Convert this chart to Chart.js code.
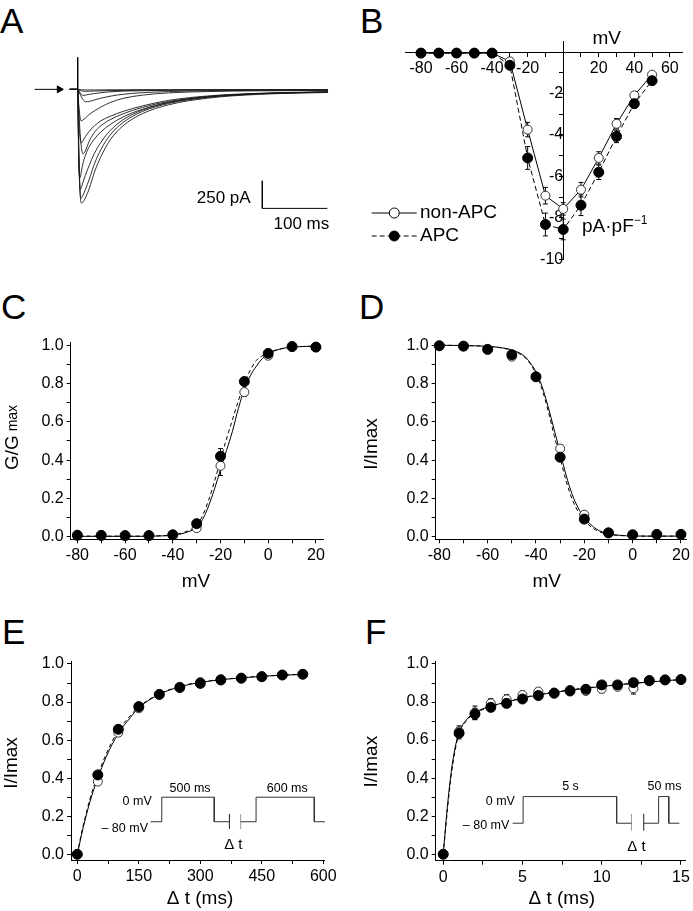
<!DOCTYPE html>
<html>
<head>
<meta charset="utf-8">
<script src="https://cdn.jsdelivr.net/npm/chart.js@4.4.0/dist/chart.umd.min.js"></script>
<style>
  body { margin: 0; background: #fff; }
  #fig { position: relative; width: 693px; height: 911px; background: #fff; overflow: hidden; }
  canvas { position: absolute; }
  .lt { position: absolute; font: 35px 'Liberation Sans', Arial, sans-serif; line-height: 35px; color: #000; }
</style>
</head>
<body>
<div id="fig">
  <div class="lt" style="left:0px;top:3px">A</div>
  <div class="lt" style="left:360px;top:3px">B</div>
  <div class="lt" style="left:1px;top:289px">C</div>
  <div class="lt" style="left:359px;top:289px">D</div>
  <div class="lt" style="left:2px;top:614px">E</div>
  <div class="lt" style="left:365px;top:614px">F</div>
  <canvas id="cA" width="345" height="200" style="left:0px;top:40px"></canvas>
  <canvas id="cB" width="343" height="280" style="left:350px;top:0px"></canvas>
  <canvas id="cC" width="345" height="260" style="left:0px;top:330px"></canvas>
  <canvas id="cD" width="348" height="260" style="left:345px;top:330px"></canvas>
  <canvas id="cE" width="345" height="321" style="left:0px;top:590px"></canvas>
  <canvas id="cF" width="348" height="321" style="left:345px;top:590px"></canvas>
</div>
<script>
'use strict';

const FONT = "'Liberation Sans', Arial, Helvetica, sans-serif";

// ---- A: current traces (ms, pA)
const traceT = [-12, 0, 2, 4, 6, 8, 12, 18, 26, 36, 50, 70, 100, 140, 200, 280, 385];
const trace1 = [0, 0, -560, -950, -1030, -1025, -985, -900, -750, -610, -460, -330, -220, -140, -80, -45, -28];
const trace2 = [0, 0, -600, -940, -985, -965, -910, -815, -675, -545, -415, -300, -200, -128, -72, -40, -25];
const trace3 = [0, 0, -650, -910, -890, -850, -780, -690, -580, -480, -375, -275, -188, -120, -70, -40, -25];
const trace4 = [0, 0, -700, -800, -740, -680, -600, -520, -450, -385, -320, -250, -180, -118, -68, -38, -24];
const trace5 = [0, 0, -200, -400, -530, -585, -560, -470, -390, -330, -275, -222, -163, -110, -65, -38, -24];
const trace6 = [0, 0, -300, -450, -485, -470, -430, -380, -330, -285, -245, -200, -150, -100, -60, -35, -22];
const trace7 = [0, 0, -150, -260, -287, -280, -260, -228, -195, -160, -120, -82, -52, -32, -20, -13, -10];
const trace8 = [0, 0, -20, -45, -70, -90, -112, -110, -96, -80, -62, -45, -30, -20, -12, -8, -6];
const trace9 = [0, 0, -15, -32, -46, -55, -52, -45, -38, -30, -22, -16, -12, -8, -6, -5, -4];
const trace10 = [0, 0, -5, -10, -14, -16, -18, -17, -15, -13, -11, -9, -7, -6, -5, -4, -3];
const trace11 = [0, 0, 0, -2, -3, -4, -5, -5, -5, -5, -4, -4, -3, -3, -3, -2, -2];
const spikeT = [0.2, 0.2];
const spikeI = [290, -60];
const arrowT = [-66, -28];
const arrowI = [0, 0];
const barT = [284, 284, 384];
const barI = [-830, -1080, -1080];

// ---- B: I-V (mV, pA/pF)
const ivV = [-80, -70, -60, -50, -40, -30, -20, -10, 0, 10, 20, 30, 40, 50];
const ivNon = [-0.05, -0.05, -0.05, -0.05, -0.05, -0.45, -3.74, -6.93, -7.57, -6.64, -5.11, -3.46, -2.09, -1.09];
const ivApc = [-0.05, -0.05, -0.05, -0.05, -0.05, -0.64, -5.11, -8.32, -8.56, -7.39, -5.80, -4.07, -2.49, -1.38];
const ivNonErr = [0, 0, 0, 0, 0, 0.15, 0.35, 0.4, 0.3, 0.35, 0.3, 0.25, 0.15, 0.1];
const ivApcErr = [0, 0, 0, 0, 0, 0.15, 0.55, 0.55, 0.5, 0.5, 0.35, 0.3, 0.2, 0.12];

// ---- C: activation
const actV = [-80, -70, -60, -50, -40, -30, -20, -10, 0, 10, 20];
const actNon = [0.006, 0.005, 0.004, 0.004, 0.008, 0.045, 0.37, 0.755, 0.945, 0.99, 0.99];
const actApc = [0.008, 0.007, 0.006, 0.006, 0.01, 0.068, 0.42, 0.81, 0.957, 0.993, 0.99];
const actNonErr = [0, 0, 0, 0, 0, 0.01, 0.05, 0.02, 0.01, 0, 0];
const actApcErr = [0, 0, 0, 0, 0, 0.01, 0.04, 0.02, 0.01, 0, 0];
const actFitV = [-82, -60, -45, -40, -35, -30, -27.5, -25, -22.5, -20, -17.5, -15, -12.5, -10, -7.5, -5, -2.5, 0, 5, 10, 20];
const actFitNon = [0.002, 0.002, 0.004, 0.008, 0.02, 0.05, 0.09, 0.16, 0.25, 0.35, 0.45, 0.55, 0.67, 0.77, 0.84, 0.89, 0.93, 0.955, 0.98, 0.99, 0.995];
const actFitApc = [0.003, 0.003, 0.005, 0.01, 0.024, 0.06, 0.11, 0.19, 0.29, 0.40, 0.51, 0.61, 0.71, 0.80, 0.87, 0.92, 0.945, 0.962, 0.98, 0.99, 0.995];

// ---- D: inactivation
const inaV = [-80, -70, -60, -50, -40, -30, -20, -10, 0, 10, 20];
const inaNon = [0.997, 0.995, 0.98, 0.94, 0.835, 0.46, 0.115, 0.022, 0.01, 0.012, 0.012];
const inaApc = [0.997, 0.995, 0.978, 0.95, 0.835, 0.415, 0.092, 0.02, 0.01, 0.012, 0.012];
const inaErr = [0, 0, 0.01, 0.015, 0.01, 0.02, 0.015, 0.01, 0, 0, 0];
const inaFitV = [-82, -70, -60, -55, -50, -45, -42.5, -40, -37.5, -35, -32.5, -30, -27.5, -25, -22.5, -20, -15, -10, -5, 0, 10, 20];
const inaFitNon = [1.0, 0.998, 0.994, 0.988, 0.975, 0.945, 0.91, 0.86, 0.785, 0.68, 0.56, 0.44, 0.32, 0.22, 0.15, 0.10, 0.04, 0.016, 0.007, 0.004, 0.003, 0.003];
const inaFitApc = [1.0, 0.998, 0.994, 0.987, 0.973, 0.94, 0.905, 0.85, 0.77, 0.66, 0.53, 0.41, 0.29, 0.195, 0.13, 0.085, 0.033, 0.013, 0.006, 0.004, 0.003, 0.003];

// ---- E: recovery, 500 ms prepulse
const recT = [0, 50, 100, 150, 200, 250, 300, 350, 400, 450, 500, 550];
const recNon = [0, 0.382, 0.639, 0.767, 0.84, 0.88, 0.905, 0.92, 0.928, 0.936, 0.943, 0.946];
const recApc = [0, 0.417, 0.657, 0.776, 0.84, 0.876, 0.898, 0.916, 0.925, 0.933, 0.942, 0.946];
const recErr = [0, 0.015, 0.015, 0.01, 0.01, 0.01, 0.01, 0.01, 0.01, 0.01, 0.01, 0.01];
const recFitT = [0, 10, 20, 30, 40, 50, 70, 100, 130, 150, 200, 250, 300, 350, 400, 450, 500, 550];
const recFitNon = [0, 0.1, 0.19, 0.27, 0.34, 0.40, 0.51, 0.635, 0.72, 0.77, 0.84, 0.88, 0.903, 0.917, 0.927, 0.935, 0.941, 0.945];
const recFitApc = [0, 0.11, 0.2, 0.285, 0.355, 0.415, 0.525, 0.65, 0.73, 0.775, 0.843, 0.882, 0.905, 0.918, 0.928, 0.936, 0.942, 0.946];
const protoE1T = [179, 206, 206, 334, 334, 371];
const protoE1Y = [0.171, 0.171, 0.3, 0.3, 0.171, 0.171];
const protoE2T = [398.5, 436, 436, 578, 578, 604];
const protoE2Y = [0.171, 0.171, 0.3, 0.3, 0.171, 0.171];
const breakE1T = [371, 371];
const breakE2T = [398.5, 398.5];
const breakEY = [0.133, 0.212];

// ---- F: recovery, 5 s prepulse
const slowT = [0, 1, 2, 3, 4, 5, 6, 7, 8, 9, 10, 11, 12, 13, 14, 15];
const slowNon = [0, 0.645, 0.744, 0.793, 0.814, 0.837, 0.855, 0.85, 0.855, 0.858, 0.869, 0.88, 0.872, 0.916, 0.918, 0.918];
const slowApc = [0, 0.636, 0.737, 0.772, 0.793, 0.816, 0.834, 0.846, 0.86, 0.867, 0.89, 0.89, 0.902, 0.912, 0.916, 0.918];
const slowNonErr = [0, 0.03, 0.035, 0.025, 0.025, 0.02, 0.015, 0.015, 0.015, 0.015, 0.02, 0.015, 0.03, 0.01, 0.01, 0.01];
const slowApcErr = [0, 0.03, 0.03, 0.02, 0.02, 0.015, 0.012, 0.012, 0.012, 0.012, 0.015, 0.012, 0.015, 0.01, 0.01, 0.01];
const slowFitT = [0, 0.25, 0.5, 0.75, 1, 1.5, 2, 3, 4, 5, 6, 7, 8, 9, 10, 11, 12, 13, 14, 15];
const slowFitNon = [0, 0.24, 0.43, 0.56, 0.64, 0.71, 0.745, 0.778, 0.80, 0.82, 0.837, 0.85, 0.862, 0.872, 0.882, 0.89, 0.898, 0.905, 0.912, 0.918];
const slowFitApc = [0, 0.22, 0.41, 0.545, 0.635, 0.705, 0.74, 0.775, 0.80, 0.822, 0.84, 0.853, 0.864, 0.874, 0.883, 0.891, 0.899, 0.906, 0.912, 0.918];
const protoF1T = [4.375, 5.04, 5.04, 10.94, 10.94, 11.875];
const protoF1Y = [0.163, 0.163, 0.303, 0.303, 0.163, 0.163];
const protoF2T = [12.65, 13.59, 13.59, 14.23, 14.23, 14.9];
const protoF2Y = [0.163, 0.163, 0.303, 0.303, 0.163, 0.163];
const breakF1T = [11.875, 11.875];
const breakF2T = [12.65, 12.65];
const breakFY = [0.124, 0.212];

// Helpers
const pts = (xs, ys) => xs.map((x, i) => ({ x, y: ys[i] }));

Chart.defaults.font.family = FONT;
Chart.defaults.animation = false;
Chart.defaults.events = [];
Chart.defaults.plugins.legend.display = false;
Chart.defaults.plugins.tooltip.enabled = false;

// free text, keyed by canvas id; x/y in data units unless px
const TEXTS = {};
const textPlugin = {
  id: 'texts',
  afterDraw(chart) {
    const items = TEXTS[chart.canvas.id] || [];
    const { ctx, scales } = chart;
    items.forEach(it => {
      const x = it.px ? it.x : scales.x.getPixelForValue(it.x);
      const y = it.px ? it.y : scales.y.getPixelForValue(it.y);
      const parts = [{ t: it.text, size: it.size || 15, dy: 0 }].concat(it.extra || []);
      ctx.save();
      ctx.translate(x, y);
      if (it.rot) ctx.rotate(it.rot);
      ctx.fillStyle = '#000';
      ctx.textBaseline = 'middle';
      ctx.textAlign = 'left';
      let w = 0;
      parts.forEach(p => { ctx.font = `${p.size}px ${FONT}`; p.w = ctx.measureText(p.t).width; w += p.w; });
      let cx = it.align === 'right' ? -w : it.align === 'left' ? 0 : -w / 2;
      parts.forEach(p => { ctx.font = `${p.size}px ${FONT}`; ctx.fillText(p.t, cx, p.dy); cx += p.w; });
      ctx.restore();
    });
  }
};

// vertical error bars under the markers
const errorBars = {
  id: 'errorBars',
  beforeDatasetsDraw(chart) {
    const { ctx } = chart;
    const ys = chart.scales.y;
    chart.data.datasets.forEach((ds, i) => {
      if (!ds.errs) return;
      const meta = chart.getDatasetMeta(i);
      ctx.save();
      ctx.strokeStyle = '#000';
      ctx.lineWidth = 1;
      meta.data.forEach((el, j) => {
        const e = ds.errs[j];
        if (!e) return;
        const v = ds.data[j].y;
        const top = ys.getPixelForValue(v + e);
        const bot = ys.getPixelForValue(v - e);
        ctx.beginPath();
        ctx.moveTo(el.x, top); ctx.lineTo(el.x, bot);
        ctx.moveTo(el.x - 2.5, top); ctx.lineTo(el.x + 2.5, top);
        ctx.moveTo(el.x - 2.5, bot); ctx.lineTo(el.x + 2.5, bot);
        ctx.stroke();
      });
      ctx.restore();
    });
  }
};

Chart.register(textPlugin, errorBars);

function axis(min, max, step, every, fmt, extra) {
  return Object.assign({
    type: 'linear', min, max,
    grid: { drawOnChartArea: false, drawTicks: true, tickLength: 4, tickColor: '#000', tickWidth: 1 },
    border: { display: true, color: '#000', width: 1 },
    ticks: {
      stepSize: step, includeBounds: false, autoSkip: false, maxRotation: 0,
      color: '#000', padding: 3, font: { family: FONT, size: 16 },
      callback: v => {
        const k = v / every;
        if (Math.abs(k - Math.round(k)) > 1e-6) return '';
        return fmt(v);
      }
    }
  }, extra || {});
}

const fix1 = v => v.toFixed(1);
const plain = v => String(Math.round(v));

function markers(xs, ys, open, errs) {
  return {
    data: pts(xs, ys), showLine: false, clip: false, errs,
    pointRadius: open ? 4.5 : 5, pointBorderWidth: 1,
    pointBackgroundColor: open ? '#fff' : '#000',
    pointBorderColor: open ? '#333' : '#000'
  };
}

function curve(xs, ys, dashed) {
  return {
    data: pts(xs, ys), borderColor: '#000', borderWidth: 1, pointRadius: 0, clip: false,
    borderDash: dashed ? [4, 3] : [], cubicInterpolationMode: 'monotone'
  };
}

function poly(xs, ys, color) {
  return { data: pts(xs, ys), borderColor: color || '#333', borderWidth: 1, pointRadius: 0, clip: false, tension: 0 };
}

// ---- A
const traceSet = [trace1, trace2, trace3, trace4, trace5, trace6, trace7, trace8, trace9, trace10, trace11];
const aSets = traceSet.map(tr => ({
  data: pts(traceT, tr), borderColor: '#1a1a1a', borderWidth: 0.9, pointRadius: 0,
  cubicInterpolationMode: 'monotone', clip: false
}));
aSets.push(poly(spikeT, spikeI, '#000'));
aSets.push({
  data: pts(arrowT, arrowI), borderColor: '#000', borderWidth: 1, clip: false,
  pointRadius: [0, 4], pointStyle: 'triangle', rotation: 90,
  pointBackgroundColor: '#000', pointBorderColor: '#000'
});
aSets.push(poly(barT, barI, '#000'));
TEXTS.cA = [
  { text: '250 pA', x: 266, y: -991, align: 'right', size: 17 },
  { text: '100 ms', x: 344, y: -1229, size: 17 }
];
new Chart(document.getElementById('cA'), {
  type: 'line',
  data: { datasets: aSets },
  options: {
    responsive: false,
    layout: { padding: 0 },
    scales: {
      x: { type: 'linear', display: false, min: -111.5, max: 403.4 },
      y: { type: 'linear', display: false, min: -1321.6, max: 402.6 }
    }
  }
});

// ---- B
TEXTS.cB = [
  { text: 'mV', x: 256.7, y: 38.5, size: 19, px: true },
  { text: 'pA·pF', x: 232, y: 227, size: 19, px: true, align: 'left', extra: [{ t: '\u2212', size: 12, dy: -6 }, { t: '1', size: 12, dy: -6 }] }
];
const legendRows = [
  { label: 'non-APC', dash: [], fill: '#fff', y: 213 },
  { label: 'APC', dash: [5, 3], fill: '#000', y: 236 }
];
const legendB = {
  id: 'legendB',
  afterDraw(chart) {
    const ctx = chart.ctx;
    legendRows.forEach(r => {
      ctx.save();
      ctx.strokeStyle = '#000';
      ctx.lineWidth = 1;
      ctx.setLineDash(r.dash);
      ctx.beginPath(); ctx.moveTo(21.7, r.y); ctx.lineTo(66.7, r.y); ctx.stroke();
      ctx.setLineDash([]);
      ctx.beginPath(); ctx.arc(44.3, r.y, 5, 0, Math.PI * 2);
      ctx.fillStyle = r.fill; ctx.fill(); ctx.stroke();
      ctx.fillStyle = '#000';
      ctx.font = `19px ${FONT}`;
      ctx.textBaseline = 'middle';
      ctx.textAlign = 'left';
      ctx.fillText(r.label, 70, r.y);
      ctx.restore();
    });
  }
};
new Chart(document.getElementById('cB'), {
  type: 'line',
  data: {
    datasets: [
      Object.assign(markers(ivV, ivApc, false, ivApcErr), { showLine: true, borderColor: '#000', borderWidth: 1, borderDash: [5, 3] }),
      Object.assign(markers(ivV, ivNon, true, ivNonErr), { showLine: true, borderColor: '#000', borderWidth: 1 })
    ]
  },
  options: {
    responsive: false,
    layout: { padding: { left: 55, top: 41.7, right: 10.7, bottom: 20.7 } },
    scales: {
      x: axis(-89, 67, 10, 20, v => (v === 0 ? '' : plain(v)), { position: { y: 0 } }),
      y: axis(-10, 0.5, 1, 2, v => (v === 0 ? '' : plain(v)), { position: { x: 0 } })
    }
  },
  plugins: [legendB]
});

// ---- C
TEXTS.cC = [
  { text: 'mV', x: 196, y: 251.5, size: 19, px: true },
  { text: 'G/G', x: 12.5, y: 107.5, size: 19, px: true, rot: -Math.PI / 2, extra: [{ t: ' max', size: 14, dy: 1 }] }
];
new Chart(document.getElementById('cC'), {
  type: 'line',
  data: {
    datasets: [
      markers(actV, actApc, false, actApcErr),
      markers(actV, actNon, true, actNonErr),
      curve(actFitV, actFitApc, true),
      curve(actFitV, actFitNon, false)
    ]
  },
  options: {
    responsive: false,
    layout: { padding: { left: 0, top: 11.7, right: 21.7, bottom: 0 } },
    scales: {
      x: axis(-82.8, 23.1, 10, 20, plain, { afterFit: s => { s.height = 50.7; } }),
      y: axis(-0.0135, 1.0135, 0.1, 0.2, fix1, { afterFit: s => { s.width = 70.7; } })
    }
  }
});

// ---- D
TEXTS.cD = [
  { text: 'mV', x: 201.7, y: 251.5, size: 19, px: true },
  { text: 'I/Imax', x: 26.7, y: 114, size: 19, px: true, rot: -Math.PI / 2 }
];
new Chart(document.getElementById('cD'), {
  type: 'line',
  data: {
    datasets: [
      markers(inaV, inaApc, false, inaErr),
      markers(inaV, inaNon, true, inaErr),
      curve(inaFitV, inaFitApc, true),
      curve(inaFitV, inaFitNon, false)
    ]
  },
  options: {
    responsive: false,
    layout: { padding: { left: 0, top: 11.7, right: 4.7, bottom: 0 } },
    scales: {
      x: axis(-81.5, 22.5, 10, 20, plain, { afterFit: s => { s.height = 50.7; } }),
      y: axis(-0.0135, 1.0135, 0.1, 0.2, fix1, { afterFit: s => { s.width = 90.7; } })
    }
  }
});

// ---- E
TEXTS.cE = [
  { text: '\u0394 t (ms)', x: 200, y: 308.3, size: 19, px: true },
  { text: 'I/Imax', x: 11.7, y: 173, size: 19, px: true, rot: -Math.PI / 2 },
  { text: '500 ms', x: 275, y: 0.343, size: 12.5 },
  { text: '600 ms', x: 512, y: 0.343, size: 12.5 },
  { text: '0 mV', x: 181.5, y: 0.275, size: 12.5, align: 'right' },
  { text: '\u2013 80 mV', x: 172.4, y: 0.133, size: 12.5, align: 'right' },
  { text: '\u0394 t', x: 380.5, y: 0.049, size: 15 }
];
new Chart(document.getElementById('cE'), {
  type: 'line',
  data: {
    datasets: [
      markers(recT, recApc, false, recErr),
      markers(recT, recNon, true, recErr),
      curve(recFitT, recFitApc, true),
      curve(recFitT, recFitNon, false),
      poly(protoE1T, protoE1Y),
      poly(protoE2T, protoE2Y),
      poly(breakE1T, breakEY, '#222'),
      poly(breakE2T, breakEY, '#999')
    ]
  },
  options: {
    responsive: false,
    layout: { padding: { left: 0, top: 71.7, right: 21, bottom: 0 } },
    scales: {
      x: axis(-15.4, 601.7, 75, 150, plain, { afterFit: s => { s.height = 51; } }),
      y: axis(-0.030, 1.012, 0.1, 0.2, fix1, { afterFit: s => { s.width = 71; } })
    }
  }
});

// ---- F
TEXTS.cF = [
  { text: '\u0394 t (ms)', x: 216.7, y: 308.3, size: 19, px: true },
  { text: 'I/Imax', x: 26.7, y: 171.7, size: 19, px: true, rot: -Math.PI / 2 },
  { text: '5 s', x: 8.03, y: 0.355, size: 12.5 },
  { text: '50 ms', x: 13.96, y: 0.355, size: 12.5 },
  { text: '0 mV', x: 4.525, y: 0.275, size: 12.5, align: 'right' },
  { text: '\u2013 80 mV', x: 4.17, y: 0.15, size: 12.5, align: 'right' },
  { text: '\u0394 t', x: 12.19, y: 0.040, size: 15 }
];
new Chart(document.getElementById('cF'), {
  type: 'line',
  data: {
    datasets: [
      markers(slowT, slowApc, false, slowApcErr),
      markers(slowT, slowNon, true, slowNonErr),
      curve(slowFitT, slowFitApc, true),
      curve(slowFitT, slowFitNon, false),
      poly(protoF1T, protoF1Y),
      poly(protoF2T, protoF2Y),
      poly(breakF1T, breakFY, '#999'),
      poly(breakF2T, breakFY, '#222')
    ]
  },
  options: {
    responsive: false,
    layout: { padding: { left: 0, top: 71.7, right: 4.7, bottom: 0 } },
    scales: {
      x: axis(-0.475, 15.31, 2.5, 5, plain, { afterFit: s => { s.height = 50.3; } }),
      y: axis(-0.034, 1.012, 0.1, 0.2, fix1, { afterFit: s => { s.width = 90.7; } })
    }
  }
});
</script>
</body>
</html>
